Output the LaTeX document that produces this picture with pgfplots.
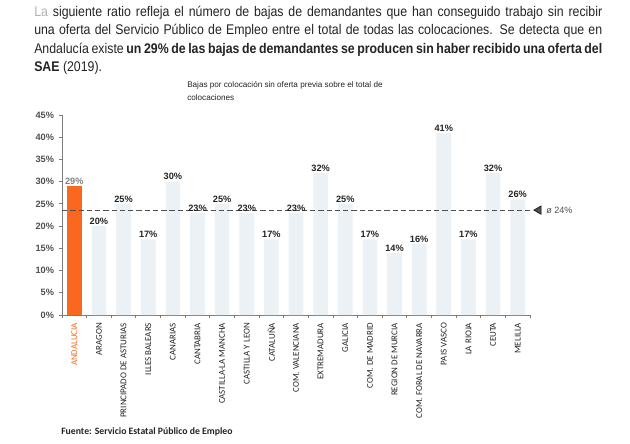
\documentclass[border=0pt]{standalone}
\usepackage{pgfplots}
\pgfplotsset{compat=1.18}
\usepackage{fontspec}
\setmainfont{Liberation Sans}
\newfontfamily\carlito{Carlito}
\newfontfamily\bodyfont[FakeStretch=0.88]{Liberation Sans}

\definecolor{sae}{RGB}{250,104,32}
\definecolor{barfaint}{RGB}{236,241,246}
\definecolor{txt}{RGB}{35,35,35}
\definecolor{axisgray}{RGB}{125,125,125}
\definecolor{avggray}{RGB}{80,80,80}

\begin{document}
\begin{tikzpicture}[x=0.75pt,y=0.75pt]
\useasboundingbox (0,0) rectangle (630,443);

% introductory paragraph, one justified line per node
\begin{scope}[every node/.style={anchor=base west, inner sep=0, text=txt,
    font=\bodyfont\fontsize{10.5}{12}\selectfont}]
\node at (34,426.5) {\makebox[426pt][s]{\textcolor{gray!60}{La} siguiente ratio refleja el número de bajas de demandantes que han conseguido trabajo sin recibir}};
\node at (34,408) {\makebox[426pt][s]{una oferta del Servicio Público de Empleo entre el total de todas las colocaciones. Se detecta que en}};
\node at (34,389.5) {\makebox[426pt][s]{Andalucía existe \textbf{un 29\% de las bajas de demandantes se producen sin haber recibido una oferta del}}};
\node at (34,371) {\textbf{SAE} (2019).};
\end{scope}

% chart title
\node[anchor=north west, inner sep=0, align=left, text=txt,
      font=\fontsize{6.1}{9.2}\selectfont] at (187,361.5)
  {Bajas por colocación sin oferta previa sobre el total de\\colocaciones};

\begin{axis}[
  at={(46.5pt,96pt)}, anchor=south west,
  scale only axis, width=351pt, height=150pt,
  xmin=-0.5, xmax=18.5, ymin=0, ymax=45,
  clip=false,
  ybar, bar width=11pt,
  axis x line*=bottom, axis y line*=left,
  axis line style={axisgray, line width=0.6pt},
  tick align=outside,
  tick style={axisgray, line width=0.6pt},
  major tick length=2.5pt, minor tick length=2.5pt,
  /pgf/number format/assume math mode=true,
  ytick={0,5,...,45},
  yticklabel={\pgfmathprintnumber{\tick}\%},
  yticklabel style={font=\bfseries\fontsize{6.9}{7}\selectfont, text=txt!80},
  xtick={0,...,18},
  major x tick style={draw=none},
  minor xtick={-0.5,0.5,...,18.5},
  xticklabels={\textcolor{sae}{ANDALUCIA}, ARAGON, PRINCIPADO DE ASTURIAS,
    ILLES BALEARS, CANARIAS, CANTABRIA, CASTILLA-LA MANCHA, CASTILLA Y LEON,
    CATALUÑA, COM. VALENCIANA, EXTREMADURA, GALICIA, COM. DE MADRID,
    REGION DE MURCIA, COM. FORAL DE NAVARRA, PAIS VASCO, LA RIOJA, CEUTA, MELILLA},
  xticklabel style={rotate=90, anchor=east, text=txt,
    font=\carlito\fontsize{6.7}{7}\selectfont},
  nodes near coords={\pgfmathprintnumber{\pgfplotspointmeta}\%},
  nodes near coords style={anchor=south, inner sep=1pt,
    font=\bfseries\fontsize{6.9}{7}\selectfont, text=txt},
]
% other regions
\addplot[bar shift=0pt, fill=barfaint, draw=none] coordinates {
  (1,20) (2,25) (3,17) (4,30) (5,23) (6,25) (7,23) (8,17) (9,23)
  (10,32) (11,25) (12,17) (13,14) (14,16) (15,41) (16,17) (17,32) (18,26)};
% Andalucia
\addplot[bar shift=0pt, fill=sae, draw=none,
  nodes near coords style={text=gray}] coordinates {(0,29)};
% national average
\addplot[sharp plot, no marks, nodes near coords={}, color=avggray,
  line width=0.75pt, dash pattern=on 4pt off 2.2pt]
  coordinates {(-0.5,23.6) (18.5,23.6)};
\addplot[only marks, nodes near coords={}, mark=triangle*, mark size=3.6pt,
  mark options={rotate=90, fill=avggray, draw=none}]
  coordinates {(18.85,23.6)};
\node[anchor=west, inner sep=0, text=avggray,
      font=\fontsize{6.8}{7}\selectfont] at (axis cs:19.15,23.6) {ø 24\%};
\end{axis}

% source
\node[anchor=west, inner sep=0, text=txt, font=\carlito\bfseries\fontsize{7.3}{8}\selectfont]
  at (61,11.5) {Fuente: Servicio Estatal Público de Empleo};
\end{tikzpicture}
\end{document}
